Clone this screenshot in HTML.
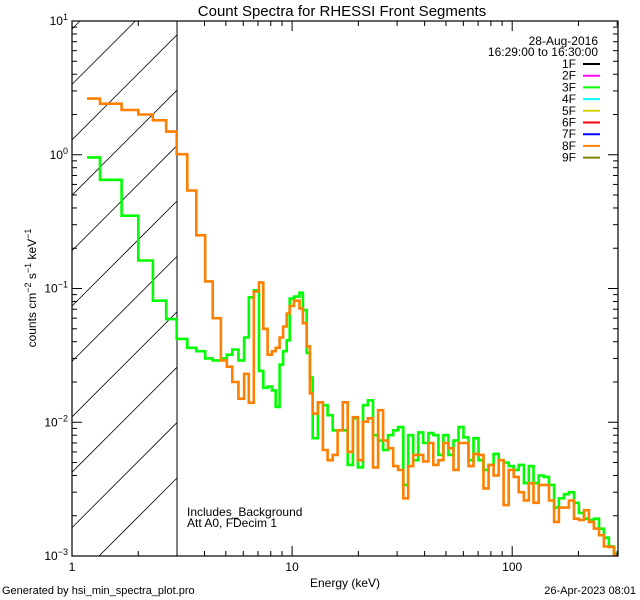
<!DOCTYPE html>
<html><head><meta charset="utf-8"><style>
html,body{margin:0;padding:0;background:#fff;width:640px;height:600px;overflow:hidden;}
svg{display:block;font-family:"Liberation Sans",sans-serif;}
</style></head><body>
<svg id="chart" width="640" height="600" viewBox="0 0 640 600">
<text x="342" y="16" font-size="15" text-anchor="middle">Count Spectra for RHESSI Front Segments</text>
<g id="hatch"></g>
<g id="series"></g>
<g id="axes"></g>
<text x="345" y="587" font-size="12" text-anchor="middle">Energy (keV)</text>
<text transform="translate(36,288) rotate(-90)" font-size="12" text-anchor="middle">counts cm<tspan dy="-5" font-size="9">−2</tspan><tspan dy="5"> s</tspan><tspan dy="-5" font-size="9">−1</tspan><tspan dy="5"> keV</tspan><tspan dy="-5" font-size="9">−1</tspan></text>
<text x="187" y="516" font-size="12">Includes_Background</text>
<text x="187" y="527" font-size="12">Att A0, FDecim 1</text>
<text x="2" y="594" font-size="11">Generated by hsi_min_spectra_plot.pro</text>
<text x="636" y="594" font-size="11" text-anchor="end">26-Apr-2023 08:01</text>
<g id="legend">
<text x="598" y="45" font-size="12" text-anchor="end">28-Aug-2016</text>
<text x="598" y="56" font-size="12" text-anchor="end">16:29:00 to 16:30:00</text>
</g>
</svg>
<script>
const NS="http://www.w3.org/2000/svg";
const lowEdges=[1.17,1.34,1.68,2.0,2.33,2.68,2.99,3.34,3.67,4.03,4.36,4.75,5.05,5.35,5.7,6.05,6.36,6.7,7.07,7.4,7.74,8.1,8.42,8.77,9.1,9.45,9.75,10.2,10.8,11.2,11.65,12.05];
const highEdges=[12.4,13.1,13.8,14.5,15.3,16.1,17.0,17.9,18.9,19.9,21.0,22.1,23.3,24.6,25.9,27.3,28.8,30.3,32.0,33.7,35.5,37.4,39.4,41.6,43.8,46.2,48.7,51.3,54.1,57.0,60.1,63.3,66.7,70.3,74.1,78.1,82.3,86.8,91.4,96.4,101.6,107,113,119,125,132,139,147,155,163,172,181,191,201,212,223,235,248,261,275,290,302];
const orangeLow=[2.63,2.41,2.16,2.0,1.81,1.49,1.01,0.54,0.25,0.113,0.06,0.029,0.026,0.020,0.015,0.023,0.014,0.095,0.111,0.050,0.032,0.034,0.036,0.043,0.052,0.065,0.074,0.081,0.071,0.055,0.037,0.0164];
const greenLow=[0.955,0.65,0.35,0.162,0.081,0.059,0.042,0.036,0.034,0.030,0.029,0.030,0.032,0.035,0.029,0.043,0.086,0.097,0.0242,0.0181,0.0185,0.0173,0.0130,0.027,0.034,0.041,0.084,0.087,0.093,0.069,0.033,0.0216];
const orangeHigh=[0.0116,0.0141,0.0062,0.0052,0.0057,0.0087,0.0141,0.0060,0.0109,0.0052,0.0101,0.0107,0.0046,0.0123,0.0073,0.0064,0.0047,0.0044,0.0027,0.0047,0.0057,0.0057,0.0051,0.0070,0.0048,0.0052,0.0070,0.0064,0.0044,0.0070,
0.0070,0.0047,0.0058,0.0057,0.0032,0.0048,0.0040,0.0052,0.0024,0.0044,0.0039,0.0030,0.0026,0.0035,0.0025,0.0034,0.0034,0.0026,0.0018,0.0023,0.0023,0.0026,0.0019,0.00186,0.0022,0.0018,0.0016,0.00143,0.00118,0.00117,0.00102];
const greenHigh=[0.0076,0.0141,0.0134,0.0113,0.0087,0.0087,0.0087,0.0048,0.0107,0.0046,0.0134,0.0146,0.0080,0.0073,0.0062,0.0080,0.0087,0.0092,0.0034,0.0080,0.0052,0.0084,0.0070,0.0083,0.0080,0.0057,0.0080,0.0057,0.0073,0.0092,
0.0077,0.0052,0.0076,0.0052,0.0044,0.0048,0.0058,0.0052,0.0050,0.0047,0.0044,0.0048,0.0035,0.0047,0.0035,0.0040,0.0039,0.0034,0.0023,0.0027,0.0029,0.0030,0.0025,0.0021,0.0019,0.00186,0.0019,0.0016,0.00137,0.00118,0.00104];
const legendLabels=["1F","2F","3F","4F","5F","6F","7F","8F","9F"];
const legendColors=["#000000","#ff00ff","#00ff00","#00ffff","#d8d000","#ff0000","#0000ff","#ff8000","#808000"];
const xTickLabels=["1","10","100"];
const yTickExps=["1","0","−1","−2","−3"];

const L=72,R=618,T=21,B=556;
const xMin=0,xMax=Math.log10(302.5);
const yMin=-3,yMax=1;
function X(e){return L+(Math.log10(e)-xMin)/(xMax-xMin)*(R-L);}
function Y(v){return B-(Math.log10(v)-yMin)/(yMax-yMin)*(B-T);}
const svg=document.getElementById('chart');
function mk(tag,attrs,parent){const el=document.createElementNS(NS,tag);for(const k in attrs)el.setAttribute(k,attrs[k]);parent.appendChild(el);return el;}
const defs=mk('defs',{},svg);

const hatch=document.getElementById('hatch');
const X3=X(3);
for(let k=0;k<14;k++){const c=655-55.4*k;
 const xa=Math.max(L,c-B), xb=Math.min(X3,c-T);
 if(xb<=xa) continue;
 const ln=mk('line',{x1:xa,y1:c-xa,x2:xb,y2:c-xb,stroke:'#000','stroke-width':0.8},hatch);
 
 }
const vl=mk('line',{x1:X3,y1:T,x2:X3,y2:B,stroke:'#000','stroke-width':1},hatch);



const sg=document.getElementById('series');
const pcl=mk('clipPath',{id:'pclip'},defs);
mk('rect',{x:L,y:T,width:R-L,height:B-T+1},pcl);
sg.setAttribute('clip-path','url(#pclip)');
const edges=lowEdges.concat(highEdges);
function stepPath(vals){let d='';for(let i=0;i<vals.length;i++){const x0=X(edges[i]),x1=X(edges[i+1]),y=Y(vals[i]);d+=(i===0?'M':'L')+x0.toFixed(1)+','+y.toFixed(1)+'L'+x1.toFixed(1)+','+y.toFixed(1);}return d;}
const g3=mk('path',{d:stepPath(greenLow.concat(greenHigh)),fill:'none',stroke:'#00ff00','stroke-width':2.6,'stroke-linejoin':'miter'},sg);


const g8=mk('path',{d:stepPath(orangeLow.concat(orangeHigh)),fill:'none',stroke:'#ff8000','stroke-width':2.6,'stroke-linejoin':'miter'},sg);



const ax=document.getElementById('axes');
const fr=mk('rect',{x:L,y:T,width:R-L,height:B-T,fill:'none',stroke:'#000','stroke-width':1.2},ax);


for(let d=0;d<=2;d++){for(let m=1;m<=9;m++){const e=m*Math.pow(10,d);if(e>302)continue;const x=X(e);const len=m===1?10:5;
 mk('line',{x1:x,y1:B,x2:x,y2:B-len,stroke:'#000'},ax);mk('line',{x1:x,y1:T,x2:x,y2:T+len,stroke:'#000'},ax);}}
xTickLabels.forEach((t,i)=>{const x=X(Math.pow(10,i));const tx=mk('text',{x:x,y:B+15,'font-size':12,'text-anchor':'middle'},ax);tx.textContent=t;
 
 });
for(let d=-3;d<1;d++){for(let m=1;m<=9;m++){const v=m*Math.pow(10,d);const y=Y(v);const len=m===1?10:5;
 mk('line',{x1:L,y1:y,x2:L+len,y2:y,stroke:'#000'},ax);mk('line',{x1:R,y1:y,x2:R-len,y2:y,stroke:'#000'},ax);}}
yTickExps.forEach((t,i)=>{const y=Y(Math.pow(10,1-i));const tx=mk('text',{x:L-4,y:y+4,'font-size':12,'text-anchor':'end'},ax);
 tx.innerHTML='10<tspan dy="-5" font-size="9">'+t+'</tspan>';
 
 });

const lg=document.getElementById('legend');
legendLabels.forEach((lab,i)=>{const y=68+i*11.7;
 const t=mk('text',{x:576,y:y,'font-size':12,'text-anchor':'end'},lg);t.textContent=lab;
 
 
 const l=mk('line',{x1:583,y1:y-4,x2:600,y2:y-4,stroke:legendColors[i],'stroke-width':2},lg);
 
 });
</script>
</body></html>
